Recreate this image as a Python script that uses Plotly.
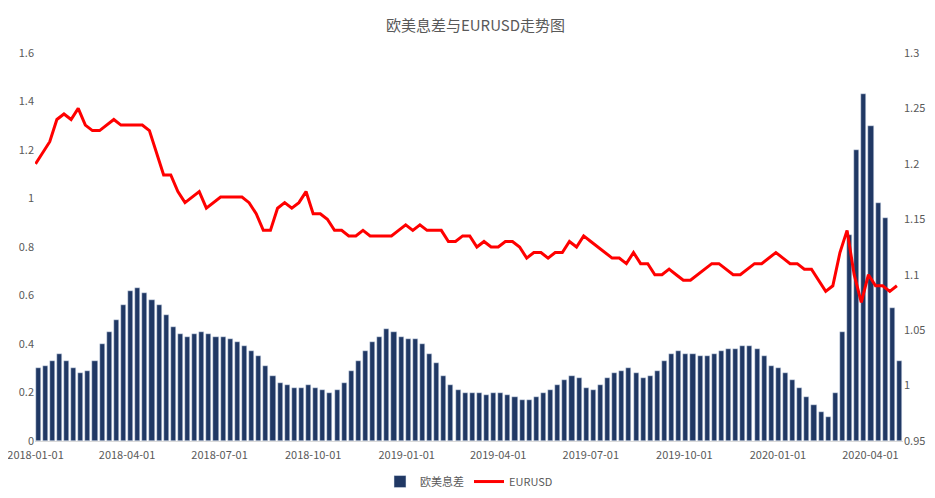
import plotly.graph_objects as go
import pandas as pd

spread = [
 .30,.31,.33,.36,.33, .30,.28,.29,.33, .40,.45,.50,.56, .62,.63,.61,.58,.56, .52,.47,.44,.43,
 .44,.45,.44,.43, .43,.42,.41,.39,.37, .35,.31,.27,.24, .23,.22,.22,.23, .22,.21,.20,.21,.24,
 .29,.33,.37,.41, .43,.46,.45,.43,.42,
 .42,.40,.36,.32, .27,.23,.21,.20, .20,.20,.19,.20, .20,.19,.18,.17,.17, .18,.20,.21,.23,
 .25,.27,.26,.22, .21,.23,.26,.28,.29, .30,.28,.26,.27, .29,.33,.36,.37,.36, .36,.35,.35,.36,
 .37,.38,.38,.39, .39,.38,.35,.31,.30,
 .28,.25,.22,.18, .15,.12,.10,.20, .45,.85,1.20,1.43,1.30, .98,.92,.55,.33]
eurusd = [
 1.20,1.21,1.22,1.24,1.245, 1.24,1.25,1.235,1.23, 1.23,1.235,1.24,1.235, 1.235,1.235,1.235,1.23,1.21,
 1.19,1.19,1.175,1.165, 1.17,1.175,1.16,1.165, 1.17,1.17,1.17,1.17,1.165, 1.155,1.14,1.14,1.16,
 1.165,1.16,1.165,1.175, 1.155,1.155,1.15,1.14,1.14, 1.135,1.135,1.14,1.135, 1.135,1.135,1.135,1.14,1.145,
 1.14,1.145,1.14,1.14, 1.14,1.13,1.13,1.135, 1.135,1.125,1.13,1.125, 1.125,1.13,1.13,1.125,1.115,
 1.12,1.12,1.115,1.12, 1.12,1.13,1.125,1.135, 1.13,1.125,1.12,1.115,1.115, 1.11,1.12,1.11,1.11,
 1.10,1.10,1.105,1.10,1.095, 1.095,1.10,1.105,1.11, 1.11,1.105,1.10,1.10, 1.105,1.11,1.11,1.115,1.12,
 1.115,1.11,1.11,1.105, 1.105,1.095,1.085,1.09, 1.12,1.14,1.10,1.075,1.10, 1.09,1.09,1.085,1.09]
n = min(len(spread), len(eurusd))
dates = pd.date_range("2018-01-01", periods=n, freq="7D")
tickvals = pd.date_range("2018-01-01", "2020-04-01", freq="3MS")

fig = go.Figure()
fig.add_bar(x=dates, y=spread[:n], name="欧美息差", marker_color="#203864",
            width=5*86400000, offset=0)
fig.add_scatter(x=dates, y=eurusd[:n], name="EURUSD", yaxis="y2", mode="lines",
                line=dict(color="#ff0000", width=3))
fig.update_layout(
    width=935, height=498, plot_bgcolor="white", paper_bgcolor="white",
    margin=dict(l=27, r=40, t=45, b=65, autoexpand=False),
    title=dict(text="欧美息差与EURUSD走势图", x=0.5, y=0.965, xanchor="center", yanchor="middle",
               font=dict(size=15, color="#595959")),
    font=dict(family="Noto Sans CJK SC", size=11, color="#595959"),
    xaxis=dict(range=["2017-12-31 12:00", "2020-05-03"], tickvals=tickvals,
               ticktext=[d.strftime("%Y-%m-%d") for d in tickvals], showgrid=False,
               ticklabeloverflow="allow", automargin=False, ticklen=4, ticks="outside",
               tickcolor="rgba(0,0,0,0)",
               showline=True, linecolor="#d9d9d9", tickfont=dict(size=11)),
    yaxis=dict(range=[0, 1.6], showgrid=False, zeroline=False, automargin=False,
               tickvals=[0,0.2,0.4,0.6,0.8,1,1.2,1.4,1.6],
               ticktext=["0","0.2","0.4","0.6","0.8","1","1.2","1.4","1.6"]),
    yaxis2=dict(range=[0.95, 1.3], overlaying="y", side="right", showgrid=False, automargin=False,
                tickvals=[0.95,1,1.05,1.1,1.15,1.2,1.25,1.3],
                ticktext=["0.95","1","1.05","1.1","1.15","1.2","1.25","1.3"]),
    legend=dict(orientation="h", x=0.5, xanchor="center", yref="container", y=0.02, yanchor="bottom"),
    bargap=0,
)
fig.write_html("out.html")
